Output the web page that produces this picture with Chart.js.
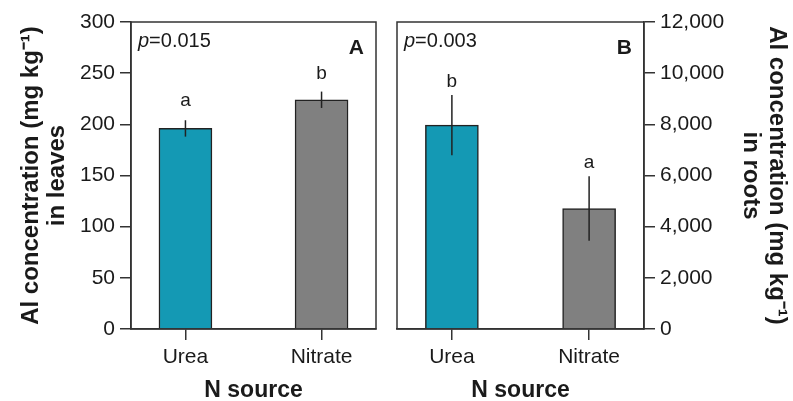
<!DOCTYPE html>
<html><head><meta charset="utf-8">
<script src="https://cdn.jsdelivr.net/npm/chart.js@4"></script>
<style>
html,body{margin:0;padding:0;background:#fff;width:793px;height:401px;overflow:hidden;}
#wa{position:absolute;left:0;top:0;width:393px;height:401px;}
#wb{position:absolute;left:393px;top:0;width:400px;height:401px;}
</style></head><body>
<div id="wa"><canvas id="ca"></canvas></div>
<div id="wb"><canvas id="cb"></canvas></div>
<script>
// ---- data ----
const categories = ['Urea', 'Nitrate'];
const leavesValues = [196, 224];
const leavesErrors = [8, 8];
const leavesLetters = ['a', 'b'];
const leavesLetterAt = [218, 244];
const rootsValues = [7970, 4710];
const rootsErrors = [1180, 1260];
const rootsLetters = ['b', 'a'];
const rootsLetterAt = [9460, 6310];
const leavesTicks = [0, 50, 100, 150, 200, 250, 300];
const rootsTicks = [0, 2000, 4000, 6000, 8000, 10000, 12000];
const xTicks = [0, 1];
const barColors = ['#1499B4', '#808080'];

const FF = "'Liberation Sans', Arial, Helvetica, sans-serif";
Chart.defaults.font.family = FF;
Chart.defaults.color = '#1a1a1a';

const annot = {
  id: 'annot',
  afterDatasetsDraw(chart, args, o) {
    const ctx = chart.ctx;
    const ys = chart.scales.y;
    const meta = chart.getDatasetMeta(0);
    const vals = chart.data.datasets[0].data;
    ctx.save();
    ctx.strokeStyle = '#222';
    ctx.lineWidth = 1.5;
    meta.data.forEach((bar, i) => {
      const v = vals[i].y, e = o.errors[i];
      ctx.beginPath();
      ctx.moveTo(bar.x, ys.getPixelForValue(v + e));
      ctx.lineTo(bar.x, ys.getPixelForValue(v - e));
      ctx.stroke();
      ctx.fillStyle = '#1a1a1a';
      ctx.font = '19px ' + FF;
      ctx.textAlign = 'center';
      ctx.textBaseline = 'alphabetic';
      ctx.fillText(o.letters[i], bar.x, ys.getPixelForValue(o.letterAt[i]));
    });
    const ca = chart.chartArea;
    ctx.strokeStyle = '#333';
    ctx.lineWidth = 1.5;
    ctx.strokeRect(ca.left, ca.top, ca.right - ca.left, ca.bottom - ca.top);
    ctx.fillStyle = '#1a1a1a';
    ctx.textAlign = 'left';
    ctx.textBaseline = 'alphabetic';
    let x = ca.left + 7;
    const yb = ca.top + 24.5;
    ctx.font = 'italic 20px ' + FF;
    ctx.fillText('p', x, yb);
    x += ctx.measureText('p').width;
    ctx.font = '20px ' + FF;
    ctx.fillText('=' + o.p, x, yb);
    ctx.font = 'bold 21px ' + FF;
    ctx.textAlign = 'right';
    ctx.fillText(o.panel, ca.right - 12, ca.top + 32);
    ctx.restore();
  }
};

function makeChart(id, values, errors, letters, letterAt, ticks, pos, titleLines, titlePad, pad, p, panel) {
  return new Chart(document.getElementById(id), {
    type: 'bar',
    data: {
      datasets: [{
        data: values.map((v, i) => ({x: xTicks[i], y: v})),
        backgroundColor: barColors,
        borderColor: '#222',
        borderWidth: 1.5,
        barThickness: 53,
        grouped: false
      }]
    },
    options: {
      responsive: true,
      maintainAspectRatio: false,
      animation: false,
      devicePixelRatio: 1,
      layout: {padding: pad},
      plugins: {legend: {display: false}, tooltip: {enabled: false},
        annot: {errors, letters, letterAt, p, panel}},
      scales: {
        x: {
          type: 'linear', min: -0.4, max: 1.4, offset: false,
          afterBuildTicks: s => { s.ticks = xTicks.map(v => ({value: v})); },
          afterFit: s => { s.height = 72; },
          ticks: {callback: v => categories[v], font: {size: 21}, color: '#1a1a1a', padding: 5, maxRotation: 0, autoSkip: false},
          grid: {drawOnChartArea: false, offset: false, color: '#333', lineWidth: 1.5, tickLength: 11},
          border: {display: true, color: '#333', width: 1.5},
          title: {display: true, text: 'N source', font: {size: 23, weight: 'bold', lineHeight: 0.9}, color: '#1a1a1a', padding: {top: 0, bottom: 0}}
        },
        y: {
          position: pos, min: ticks[0], max: ticks[ticks.length - 1],
          afterBuildTicks: s => { s.ticks = ticks.map(v => ({value: v})); },
          afterFit: s => { s.width = pos === 'left' ? 131 : 149; },
          ticks: {font: {size: 21}, color: '#1a1a1a', padding: 5,
            callback: v => Number(v).toLocaleString('en-US')},
          grid: {drawOnChartArea: false, color: '#333', lineWidth: 1.5, tickLength: 11},
          border: {display: true, color: '#333', width: 1.5},
          title: {display: true, text: titleLines, font: {size: 24, weight: 'bold', lineHeight: 1.1}, color: '#1a1a1a', padding: {top: titlePad, bottom: 0}}
        }
      }
    },
    plugins: [annot]
  });
}

makeChart('ca', leavesValues, leavesErrors, leavesLetters, leavesLetterAt, leavesTicks, 'left',
  ['Al concentration (mg kg\u207B\u00B9)', 'in leaves'], 18, {left: 0, right: 17, top: 22, bottom: 0}, '0.015', 'A');
makeChart('cb', rootsValues, rootsErrors, rootsLetters, rootsLetterAt, rootsTicks, 'right',
  ['Al concentration (mg kg\u207B\u00B9)', 'in roots'], 3, {left: 4, right: 0, top: 22, bottom: 0}, '0.003', 'B');
</script>
</body></html>
